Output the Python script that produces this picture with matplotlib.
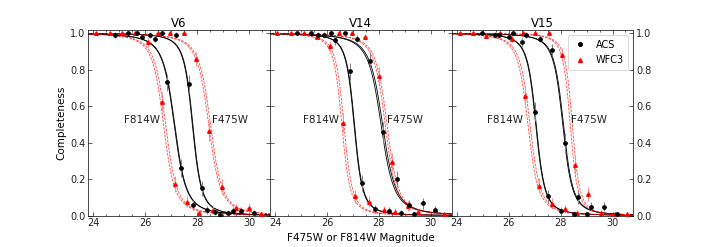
import numpy as np
import matplotlib
matplotlib.use("Agg")
import matplotlib.pyplot as plt
from matplotlib.ticker import MultipleLocator
from matplotlib.lines import Line2D

# ---------------- data ----------------
fields = ["V6", "V14", "V15"]

# ACS F814W
acs814_mag = [
    [24.83, 25.35, 25.86, 26.38, 26.85, 27.36, 27.85, 28.38, 28.88, 29.36],
    [24.86, 25.37, 25.88, 26.32, 26.87, 27.35, 27.86, 28.37, 28.85, 29.36],
    [24.97, 25.48, 26.00, 26.51, 27.00, 27.52, 28.02, 28.51, 29.00],
]
acs814_c = [
    [0.99, 1.00, 0.98, 0.97, 0.73, 0.26, 0.06, 0.03, 0.005, 0.027],
    [1.00, 1.00, 0.99, 0.96, 0.79, 0.178, 0.036, 0.027, 0.016, 0.009],
    [1.00, 0.99, 0.98, 0.95, 0.57, 0.106, 0.025, 0.009, 0.009],
]
# ACS F475W
acs475_mag = [
    [25.67, 26.18, 26.66, 27.17, 27.69, 28.17, 28.69, 29.19, 29.67, 30.19],
    [25.67, 26.17, 26.68, 27.15, 27.67, 28.15, 28.69, 29.16, 29.68, 30.15],
    [25.61, 26.15, 26.67, 27.20, 27.65, 28.17, 28.67, 29.18, 29.68, 30.17],
]
acs475_c = [
    [1.00, 0.99, 1.00, 0.99, 0.72, 0.15, 0.02, 0.013, 0.027, 0.013],
    [0.99, 1.00, 1.00, 0.97, 0.85, 0.46, 0.20, 0.059, 0.068, 0.03],
    [0.99, 1.00, 0.99, 0.97, 0.91, 0.40, 0.10, 0.049, 0.049, 0.009],
]
# WFC3 F814W
wfc814_mag = [
    [24.09, 24.62, 25.09, 25.60, 26.12, 26.63, 27.14, 27.62, 28.08, 28.60],
    [24.09, 24.60, 25.11, 25.62, 26.10, 26.60, 27.08, 27.60, 28.18, 28.60],
    [24.13, 24.64, 25.13, 25.68, 26.13, 26.64, 27.16, 27.67, 28.17, 28.64],
]
wfc814_c = [
    [1.00, 1.00, 1.00, 1.00, 0.95, 0.625, 0.174, 0.075, 0.016, 0.031],
    [1.00, 1.00, 1.00, 0.98, 0.93, 0.51, 0.105, 0.077, 0.031, 0.022],
    [1.00, 1.00, 0.987, 1.00, 0.97, 0.656, 0.165, 0.066, 0.035, 0.016],
]
# WFC3 F475W
wfc475_mag = [
    [26.47, 26.96, 27.47, 27.96, 28.47, 28.94, 29.49, 30.00, 30.45],
    [26.47, 26.96, 27.47, 28.01, 28.50, 29.13, 29.50, 30.16, 30.50],
    [26.54, 27.03, 27.55, 28.06, 28.55, 29.06, 29.55, 30.10, 30.54],
]
wfc475_c = [
    [1.00, 1.00, 1.00, 0.857, 0.464, 0.159, 0.04, 0.044, 0.01],
    [1.00, 1.00, 0.98, 0.768, 0.296, 0.053, 0.02, 0.031, 0.009],
    [1.00, 1.00, 1.00, 0.88, 0.276, 0.119, 0.013, 0.009, 0.009],
]

# fitted completeness curves: (m50, alpha) pairs, two fits per filter/camera
acs814_fit = [[(27.11, 2.1), (27.13, 2.1)], [(27.04, 3.0), (27.06, 3.0)], [(27.04, 2.8), (27.06, 2.8)]]
acs475_fit = [[(27.81, 2.8), (27.83, 2.8)], [(28.08, 1.9), (28.14, 1.9)], [(28.08, 2.6), (28.11, 2.6)]]
wfc814_fit = [[(26.70, 2.2), (26.78, 2.2)], [(26.57, 3.0), (26.65, 3.0)], [(26.74, 2.4), (26.82, 2.4)]]
wfc475_fit = [[(28.44, 2.1), (28.51, 2.1)], [(28.24, 2.2), (28.31, 2.2)], [(28.37, 3.4), (28.45, 3.4)]]


def fleming(m, m50, a):
    x = a * (m - m50)
    return 0.5 * (1.0 - x / np.sqrt(1.0 + x * x))


def errs(c):
    # binomial-like uncertainty derived from the completeness value
    c = np.asarray(c)
    return 0.10 * np.sqrt(np.clip(c * (1 - c), 0, None)) + 0.004


plt.rcParams['font.family'] = ['DejaVu Sans']
fig, axes = plt.subplots(1, 3, figsize=(7.06, 2.47), dpi=100, sharey=True)
fig.subplots_adjust(left=0.125, right=0.897, bottom=0.127, top=0.879, wspace=0)

mgrid = np.linspace(23.8, 30.8, 400)
red = "#ff0000"

for i, ax in enumerate(axes):
    for (m50, a) in acs814_fit[i] + acs475_fit[i]:
        ax.plot(mgrid, fleming(mgrid, m50, a), color="black", lw=0.6, zorder=2)
    for (m50, a) in wfc814_fit[i] + wfc475_fit[i]:
        ax.plot(mgrid, fleming(mgrid, m50, a), color=red, lw=0.6, ls="--",
                dashes=(3, 1.5), alpha=0.75, zorder=2)
    for mags, cs in ((acs814_mag[i], acs814_c[i]), (acs475_mag[i], acs475_c[i])):
        ax.errorbar(mags, cs, yerr=errs(cs), xerr=0.08, fmt="o", ms=2.4,
                    color="black", ecolor=(0.5, 0.5, 0.5), elinewidth=0.7,
                    capsize=0, zorder=4)
    for mags, cs in ((wfc814_mag[i], wfc814_c[i]), (wfc475_mag[i], wfc475_c[i])):
        ax.errorbar(mags, cs, yerr=errs(cs), xerr=0.08, fmt="^", ms=2.6,
                    color=red, ecolor=(1.0, 0.55, 0.55), elinewidth=0.7,
                    capsize=0, zorder=3)

    ax.set_xlim(23.8, 30.8)
    ax.set_ylim(0, 1.018)
    ax.set_title(fields[i], fontsize=8.5, pad=2)
    ax.xaxis.set_major_locator(MultipleLocator(2))
    ax.xaxis.set_minor_locator(MultipleLocator(0.5))
    ax.yaxis.set_major_locator(MultipleLocator(0.2))
    ax.tick_params(direction="in", which="both", top=True, right=True,
                   labelsize=7, length=3, width=0.5, pad=2, colors="#222222")
    ax.tick_params(which="minor", length=1.5)
    for s in ax.spines.values():
        s.set_linewidth(0.5)

label_pos = [(25.86, 29.27), (25.75, 29.0), (25.86, 29.1)]
for i, ax in enumerate(axes):
    ax.text(label_pos[i][0], 0.525, "F814W", fontsize=7.5, ha="center", va="center",
            color="#222222")
    ax.text(label_pos[i][1], 0.525, "F475W", fontsize=7.5, ha="center", va="center",
            color="#222222")

axes[0].set_ylabel("Completeness", fontsize=7.5, labelpad=3)
axes[1].tick_params(labelleft=False)
axes[2].tick_params(labelleft=False, labelright=True)
axes[1].set_xlabel("F475W or F814W Magnitude", fontsize=7.5, labelpad=3)

handles = [Line2D([], [], ls="none", marker="o", ms=2.6, color="black"),
           Line2D([], [], ls="none", marker="^", ms=2.8, color=red)]
leg = axes[2].legend(handles, ["ACS", "WFC3"], loc="upper right",
                     fontsize=7, handlelength=1.5,
                     borderpad=0.5, labelspacing=0.6, framealpha=1)
leg.get_frame().set_linewidth(0.5)

fig.savefig("out.png", dpi=100)
